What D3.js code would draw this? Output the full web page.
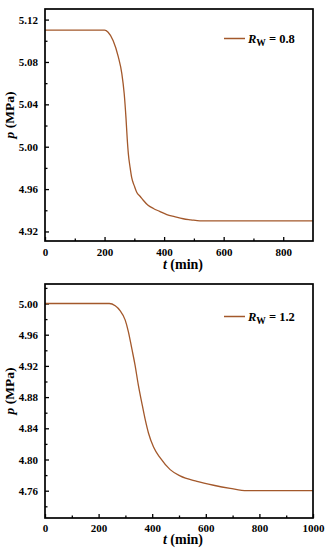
<!DOCTYPE html>
<html>
<head>
<meta charset="utf-8">
<script src="https://cdn.jsdelivr.net/npm/d3@7"></script>
<style>
  body { margin: 0; background: #fff; }
  svg { display: block; }
  text { font-family: "Liberation Serif", "Times New Roman", serif; font-weight: bold; fill: #000; }
</style>
</head>
<body>
<div id="chart-area"></div>
<script>
// Rw = 0.8 panel
const t08 = [0, 200, 212, 229, 246, 258, 266, 272, 276, 280, 286, 291, 300, 308, 320, 330, 345, 364, 385, 409, 435, 464, 490, 520, 560, 600, 900];
const p08 = [5.11, 5.11, 5.108, 5.100, 5.085, 5.069, 5.050, 5.027, 5.008, 4.993, 4.980, 4.971, 4.963, 4.957, 4.953, 4.9495, 4.945, 4.9417, 4.939, 4.936, 4.934, 4.932, 4.931, 4.930, 4.930, 4.930, 4.930];
const xTicks08 = [0, 200, 400, 600, 800];
const yTicks08 = [4.92, 4.96, 5.00, 5.04, 5.08, 5.12];

// Rw = 1.2 panel
const t12 = [0, 240, 262, 280, 299, 311, 324, 336, 348, 361, 374, 386, 405, 430, 467, 504, 567, 629, 691, 753, 800, 1000];
const p12 = [5.00, 5.00, 4.997, 4.991, 4.979, 4.964, 4.942, 4.921, 4.896, 4.873, 4.851, 4.834, 4.816, 4.802, 4.787, 4.779, 4.772, 4.767, 4.763, 4.760, 4.760, 4.760];
const xTicks12 = [0, 200, 400, 600, 800, 1000];
const yTicks12 = [4.76, 4.80, 4.84, 4.88, 4.92, 4.96, 5.00];

const width = 326;
const height = 550;
const lineColor = "#a3582b";

const svg = d3.select("#chart-area")
    .append("svg")
    .attr("width", width)
    .attr("height", height);

function panel(opts) {
    const g = svg.append("g")
        .attr("transform", `translate(${opts.left},${opts.top})`);
    const w = opts.w, h = opts.h;

    const x = d3.scaleLinear().domain(opts.xDomain).range([0, w]);
    const y = d3.scaleLinear().domain(opts.yDomain).range([h, 0]);

    // minor ticks (midpoints)
    const xStep = opts.xTicks[1] - opts.xTicks[0];
    const xMinor = opts.xTicks.map(d => d + xStep / 2).filter(d => d < opts.xDomain[1]);
    const step = opts.yTicks[1] - opts.yTicks[0];
    const yMinor = [opts.yTicks[0] - step / 2].concat(opts.yTicks.map(d => d + step / 2))
        .filter(d => d > opts.yDomain[0] && d < opts.yDomain[1]);

    g.append("g")
        .attr("transform", `translate(0,${h})`)
        .call(d3.axisBottom(x).tickValues(opts.xTicks).tickSize(-4).tickPadding(opts.xPad).tickFormat(d3.format("d")));
    g.append("g")
        .attr("transform", `translate(0,${h})`)
        .call(d3.axisBottom(x).tickValues(xMinor).tickSize(-2.5).tickFormat(""));

    g.append("g")
        .call(d3.axisLeft(y).tickValues(opts.yTicks).tickSize(-4).tickPadding(7).tickFormat(d3.format(".2f")));
    g.append("g")
        .call(d3.axisLeft(y).tickValues(yMinor).tickSize(-2.5).tickFormat(""));

    g.selectAll(".domain").remove();
    g.selectAll(".tick line").attr("stroke", "#000").attr("stroke-width", 1.3);
    g.selectAll(".tick text").style("font-size", "11px").attr("fill", "#000");

    // curve
    const data = opts.t.map((d, i) => ({ t: d, p: opts.p[i] }));
    g.append("path")
        .datum(data)
        .attr("fill", "none")
        .attr("stroke", lineColor)
        .attr("stroke-width", 1.3)
        .attr("d", d3.line().x(d => x(d.t)).y(d => y(d.p)).curve(d3.curveMonotoneX));

    // frame
    g.append("rect")
        .attr("width", w).attr("height", h)
        .attr("fill", "none")
        .attr("stroke", "#000")
        .attr("stroke-width", 1.7);

    // legend
    const lg = g.append("g").attr("transform", `translate(${w - 89},${opts.legendY})`);
    lg.append("line").attr("x1", 0).attr("x2", 21).attr("y1", 0).attr("y2", 0)
        .attr("stroke", lineColor).attr("stroke-width", 1.5);
    const lt = lg.append("text").attr("x", 24).attr("y", 4.5).style("font-size", "12.5px");
    lt.append("tspan").style("font-style", "italic").text("R");
    lt.append("tspan").attr("dy", 3).style("font-size", "9.5px").text("W");
    lt.append("tspan").attr("dy", -3).text(" = " + opts.label);

    // axis titles
    const xt = g.append("text")
        .attr("x", w / 2 + 4).attr("y", h + opts.xTitleGap)
        .attr("text-anchor", "middle").style("font-size", "14px");
    xt.append("tspan").style("font-style", "italic").text("t");
    xt.append("tspan").text(" (min)");

    const yt = g.append("text")
        .attr("transform", `translate(${-opts.left + 14},${h / 2 - 10}) rotate(-90)`)
        .attr("text-anchor", "middle").style("font-size", "13.5px");
    yt.append("tspan").style("font-style", "italic").text("p");
    yt.append("tspan").text(" (MPa)");
}

panel({
    left: 45, top: 9, w: 268, h: 232,
    xDomain: [0, 900], yDomain: [4.911, 5.13],
    xTicks: xTicks08, yTicks: yTicks08,
    t: t08, p: p08, label: "0.8", legendY: 29.5, xPad: 7.5, xTitleGap: 28
});

panel({
    left: 45, top: 284, w: 268, h: 234,
    xDomain: [0, 1000], yDomain: [4.725, 5.025],
    xTicks: xTicks12, yTicks: yTicks12,
    t: t12, p: p12, label: "1.2", legendY: 32.5, xPad: 6.5, xTitleGap: 25.5
});
</script>
</body>
</html>
